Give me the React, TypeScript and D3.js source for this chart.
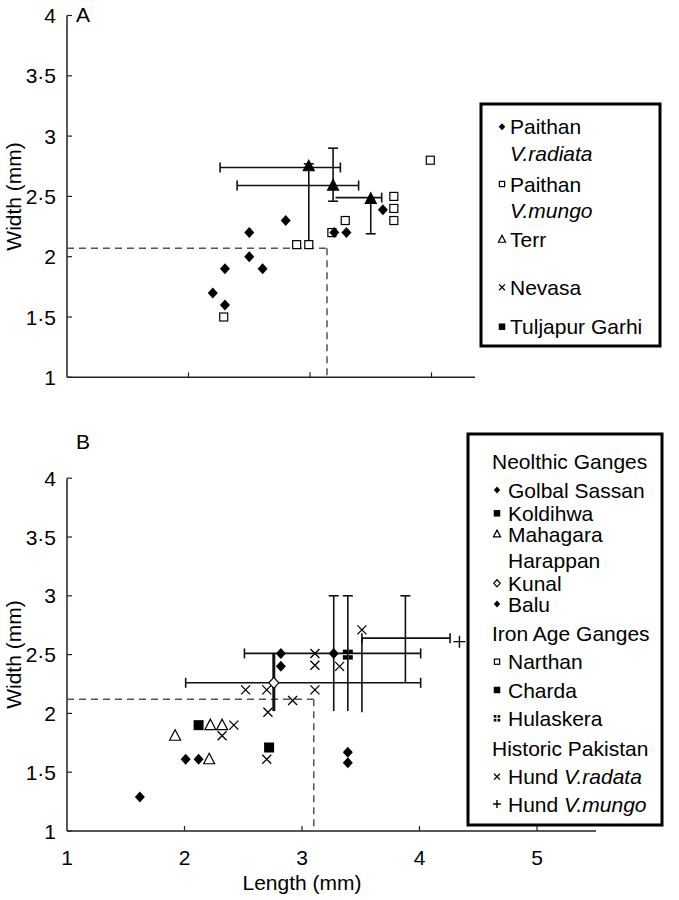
import React from "react";
import * as d3 from "d3";

// ---------- DATA ----------
const yTicks = [1, 1.5, 2, 2.5, 3, 3.5, 4];
const yTickLabels = ["1", "1·5", "2", "2·5", "3", "3·5", "4"];
const xTicks = [1, 2, 3, 4, 5];
const xTickLabels = ["1", "2", "3", "4", "5"];

// Panel A
const paithanRadiata: [number, number][] = [
  [2.5, 2.2], [2.5, 2.0], [2.3, 1.9], [2.2, 1.7], [2.3, 1.6], [2.61, 1.9],
  [2.8, 2.3], [3.2, 2.2], [3.3, 2.2], [3.6, 2.39],
];
const paithanMungo: [number, number][] = [
  [2.29, 1.5], [2.89, 2.1], [2.99, 2.1], [3.18, 2.2], [3.29, 2.3],
  [3.69, 2.5], [3.69, 2.4], [3.69, 2.3], [3.99, 2.8],
];
const terr: [number, number][] = [[2.99, 2.75], [3.19, 2.59], [3.5, 2.48]];
// error segments: [orientation, fixed, lo, hi, capLo, capHi, thick]
type Seg = [string, number, number, number, boolean, boolean, boolean];
const errorsA: Seg[] = [
  ["h", 2.74, 2.26, 3.25, true, true, false],
  ["v", 2.99, 2.09, 2.77, false, true, false],
  ["h", 2.59, 2.4, 3.4, true, true, false],
  ["v", 3.19, 2.46, 2.9, true, true, false],
  ["h", 2.49, 3.21, 3.59, false, true, false],
  ["v", 3.5, 2.19, 2.48, true, false, false],
];
const cutA = { x: 3.14, y: 2.07 };

// Panel B
const golbalSassan: [number, number][] = [[1.62, 1.29], [2.01, 1.61], [2.12, 1.61]];
const koldihwa: [number, number][] = [[2.12, 1.9]];
const mahagara: [number, number][] = [[1.92, 1.81], [2.21, 1.61], [2.22, 1.9], [2.32, 1.9]];
const kunal: [number, number][] = [[2.76, 2.26]];
const balu: [number, number][] = [[2.82, 2.51], [2.82, 2.4], [3.27, 2.51], [3.39, 1.67], [3.39, 1.58]];
const charda: [number, number][] = [[2.72, 1.71]];
const hulaskera: [number, number][] = [[3.39, 2.5]];
const hundRadata: [number, number][] = [
  [2.42, 1.9], [2.32, 1.81], [2.7, 1.61], [2.71, 2.01], [2.92, 2.11], [2.52, 2.2],
  [2.7, 2.2], [3.11, 2.51], [3.11, 2.41], [3.11, 2.2], [3.32, 2.4], [3.51, 2.71],
];
const hundMungo: [number, number][] = [[4.34, 2.61]];
const errorsB: Seg[] = [
  ["h", 2.26, 2.01, 4.01, true, true, false],
  ["v", 2.76, 2.02, 2.51, false, false, true],
  ["h", 2.51, 2.51, 4.01, true, true, false],
  ["v", 3.27, 2.02, 3.0, false, true, false],
  ["v", 3.39, 2.02, 3.0, false, true, false],
  ["v", 3.51, 2.01, 2.64, false, false, false],
  ["h", 2.64, 3.51, 4.26, true, true, false],
  ["v", 3.88, 2.26, 3.0, false, true, false],
];
const cutB = { x: 3.1, y: 2.12 };

const legendA = [
  { sym: "diamond", lines: [["Paithan", false], ["V.radiata", true]] },
  { sym: "square", lines: [["Paithan", false], ["V.mungo", true]] },
  { sym: "triangle", lines: [["Terr", false]] },
  { sym: "cross", lines: [["Nevasa", false]] },
  { sym: "fsquare", lines: [["Tuljapur Garhi", false]] },
];
const legendAY = [126.7, 184, 239.3, 287.3, 326.7];

const legendB: { sym: string | null; text: [string, boolean][] }[] = [
  { sym: null, text: [["Neolthic Ganges", false]] },
  { sym: "diamond", text: [["Golbal Sassan", false]] },
  { sym: "fsquare", text: [["Koldihwa", false]] },
  { sym: "triangle", text: [["Mahagara", false]] },
  { sym: "blank", text: [["Harappan", false]] },
  { sym: "odiamond", text: [["Kunal", false]] },
  { sym: "diamond", text: [["Balu", false]] },
  { sym: null, text: [["Iron Age Ganges", false]] },
  { sym: "square", text: [["Narthan", false]] },
  { sym: "fsquare", text: [["Charda", false]] },
  { sym: "quad", text: [["Hulaskera", false]] },
  { sym: null, text: [["Historic Pakistan", false]] },
  { sym: "cross", text: [["Hund ", false], ["V.radata", true]] },
  { sym: "plus", text: [["Hund ", false], ["V.mungo", true]] },
];
const legendBY = [461.7, 490, 513.3, 534, 560.7, 583.3, 604, 633.3, 661.7, 690, 718.3, 748.3, 776.7, 804];

// ---------- DRAWING ----------
const FONT = "'Liberation Sans', Arial, Helvetica, sans-serif";
const FS = 21;
const BASE = 7.5;

function Marker({ type, x, y, s = 1, filledTri = false }: any) {
  const k = s;
  switch (type) {
    case "diamond":
      return <path d={`M${x},${y - 5.5 * k}L${x + 5 * k},${y}L${x},${y + 5.5 * k}L${x - 5 * k},${y}Z`} fill="#000" />;
    case "odiamond":
      return <path d={`M${x},${y - 5.5 * k}L${x + 5 * k},${y}L${x},${y + 5.5 * k}L${x - 5 * k},${y}Z`} fill="#fff" stroke="#000" strokeWidth={1.2} />;
    case "square":
      return <rect x={x - 4 * k} y={y - 4 * k} width={8 * k} height={8 * k} fill="#fff" stroke="#000" strokeWidth={1.2} />;
    case "fsquare":
      return <rect x={x - 5 * k} y={y - 5 * k} width={10 * k} height={10 * k} fill="#000" />;
    case "quad": {
      const h = 5 * k, g = 0.6;
      return (
        <g fill="#000">
          <rect x={x - h} y={y - h} width={h - g} height={h - g} />
          <rect x={x + g} y={y - h} width={h - g} height={h - g} />
          <rect x={x - h} y={y + g} width={h - g} height={h - g} />
          <rect x={x + g} y={y + g} width={h - g} height={h - g} />
        </g>
      );
    }
    case "triangle":
      return (
        <path d={`M${x},${y - 6 * k}L${x + 5.5 * k},${y + 4.5 * k}L${x - 5.5 * k},${y + 4.5 * k}Z`}
          fill={filledTri ? "#000" : "#fff"} stroke="#000" strokeWidth={1.2} />
      );
    case "cross":
      return <path d={`M${x - 4.5 * k},${y - 4.5 * k}L${x + 4.5 * k},${y + 4.5 * k}M${x - 4.5 * k},${y + 4.5 * k}L${x + 4.5 * k},${y - 4.5 * k}`} stroke="#000" strokeWidth={1.3} fill="none" />;
    case "plus":
      return <path d={`M${x - 6 * k},${y}L${x + 6 * k},${y}M${x},${y - 6 * k}L${x},${y + 6 * k}`} stroke="#000" strokeWidth={1.4} fill="none" />;
    default:
      return null;
  }
}

function ErrorBars({ segs, xs, ys }: any) {
  const cap = 5;
  return (
    <g stroke="#111" fill="none">
      {segs.map((s: Seg, i: number) => {
        const [o, f, lo, hi, cl, ch, thick] = s;
        const sw = thick ? 3 : 1.6;
        if (o === "h") {
          const y = ys(f), x1 = xs(lo), x2 = xs(hi);
          return (
            <g key={i} strokeWidth={sw}>
              <line x1={x1} x2={x2} y1={y} y2={y} />
              {cl && <line x1={x1} x2={x1} y1={y - cap} y2={y + cap} strokeWidth={1.6} />}
              {ch && <line x1={x2} x2={x2} y1={y - cap} y2={y + cap} strokeWidth={1.6} />}
            </g>
          );
        }
        const x = xs(f), y1 = ys(lo), y2 = ys(hi);
        return (
          <g key={i} strokeWidth={sw}>
            <line x1={x} x2={x} y1={y1} y2={y2} />
            {cl && <line x1={x - cap} x2={x + cap} y1={y1} y2={y1} strokeWidth={1.6} />}
            {ch && <line x1={x - cap} x2={x + cap} y1={y2} y2={y2} strokeWidth={1.6} />}
          </g>
        );
      })}
    </g>
  );
}

function Axes({ xs, ys, xEnd, showXLabels, letter, letterY }: any) {
  const x0 = xs(1), y0 = ys(1);
  return (
    <g>
      <line x1={x0} x2={x0} y1={ys(4)} y2={y0} stroke="#222" strokeWidth={1.5} />
      <line x1={x0} x2={xEnd} y1={y0} y2={y0} stroke="#222" strokeWidth={1.5} />
      {yTicks.map((t, i) => (
        <g key={"y" + i}>
          <line x1={x0} x2={x0 + 5} y1={ys(t)} y2={ys(t)} stroke="#222" strokeWidth={1.2} />
          <text x={56} y={ys(t) + BASE} textAnchor="end" fontSize={FS} fontFamily={FONT}>{yTickLabels[i]}</text>
        </g>
      ))}
      {xTicks.filter((t) => t > 1 && xs(t) < xEnd).map((t) => (
        <line key={"x" + t} x1={xs(t)} x2={xs(t)} y1={y0} y2={y0 - 5} stroke="#222" strokeWidth={1.2} />
      ))}
      {showXLabels && xTicks.map((t, i) => (
        <text key={"xl" + t} x={xs(t)} y={y0 + 34} textAnchor="middle" fontSize={FS} fontFamily={FONT}>{xTickLabels[i]}</text>
      ))}
      <text x={76} y={letterY} fontSize={FS} fontFamily={FONT}>{letter}</text>
      <text transform={`translate(21,${(ys(4) + y0) / 2}) rotate(-90)`} textAnchor="middle" fontSize={FS} fontFamily={FONT}>Width (mm)</text>
    </g>
  );
}

function Cut({ c, xs, ys }: any) {
  return (
    <g stroke="#555" strokeWidth={1.5} strokeDasharray="7,5" fill="none">
      <line x1={xs(1)} x2={xs(c.x)} y1={ys(c.y)} y2={ys(c.y)} />
      <line x1={xs(c.x)} x2={xs(c.x)} y1={ys(c.y)} y2={ys(1)} />
    </g>
  );
}

export default function App() {
  const W = 679, H = 900;
  const xA = d3.scaleLinear().domain([1, 4]).range([67, 67 + 3 * 121.5]);
  const yA = d3.scaleLinear().domain([1, 4]).range([377.3, 377.3 - 3 * 120.6]);
  const xB = d3.scaleLinear().domain([1, 5]).range([67, 67 + 4 * 117.5]);
  const yB = d3.scaleLinear().domain([1, 4]).range([831, 831 - 3 * 117.6]);

  const pts = (arr: [number, number][], type: string, xs: any, ys: any, filledTri = false) =>
    arr.map((p, i) => <Marker key={type + i} type={type} x={xs(p[0])} y={ys(p[1])} filledTri={filledTri} />);

  return (
    <svg width={W} height={H} style={{ position: "absolute", left: 0, top: 0, background: "#fff" }}>
      <rect width={W} height={H} fill="#fff" />
      {/* Panel A */}
      <Axes xs={xA} ys={yA} xEnd={475} showXLabels={false} letter="A" letterY={22} />
      <Cut c={cutA} xs={xA} ys={yA} />
      <ErrorBars segs={errorsA} xs={xA} ys={yA} />
      {pts(paithanMungo, "square", xA, yA)}
      {pts(paithanRadiata, "diamond", xA, yA)}
      {pts(terr, "triangle", xA, yA, true)}
      <rect x={481} y={104} width={179} height={242} fill="#fff" stroke="#000" strokeWidth={3} />
      {legendA.map((e, i) => (
        <g key={"la" + i}>
          <Marker type={e.sym} x={502} y={legendAY[i]} s={0.65} />
          {e.lines.map((ln: any, j: number) => (
            <text key={j} x={510} y={legendAY[i] + BASE + j * 26.6} fontSize={FS} fontFamily={FONT} fontStyle={ln[1] ? "italic" : "normal"}>{ln[0]}</text>
          ))}
        </g>
      ))}

      {/* Panel B */}
      <Axes xs={xB} ys={yB} xEnd={596} showXLabels={true} letter="B" letterY={449} />
      <Cut c={cutB} xs={xB} ys={yB} />
      <ErrorBars segs={errorsB} xs={xB} ys={yB} />
      {pts(hundRadata, "cross", xB, yB)}
      {pts(mahagara, "triangle", xB, yB)}
      {pts(golbalSassan, "diamond", xB, yB)}
      {pts(balu, "diamond", xB, yB)}
      {pts(koldihwa, "fsquare", xB, yB)}
      {pts(charda, "fsquare", xB, yB)}
      {pts(kunal, "odiamond", xB, yB)}
      {pts(hulaskera, "quad", xB, yB)}
      {pts(hundMungo, "plus", xB, yB)}
      <text x={xB(3)} y={890} textAnchor="middle" fontSize={FS} fontFamily={FONT}>Length (mm)</text>
      <rect x={468} y={434} width={194} height={391} fill="#fff" stroke="#000" strokeWidth={3} />
      {legendB.map((e, i) => {
        const hasSym = e.sym !== null;
        const tx = hasSym ? 508 : 492;
        return (
          <g key={"lb" + i}>
            {hasSym && e.sym !== "blank" && <Marker type={e.sym} x={497} y={legendBY[i]} s={0.65} />}
            <text x={tx} y={legendBY[i] + BASE} fontSize={FS} fontFamily={FONT}>
              {e.text.map((t, j) => (
                <tspan key={j} fontStyle={t[1] ? "italic" : "normal"}>{t[0]}</tspan>
              ))}
            </text>
          </g>
        );
      })}
    </svg>
  );
}
